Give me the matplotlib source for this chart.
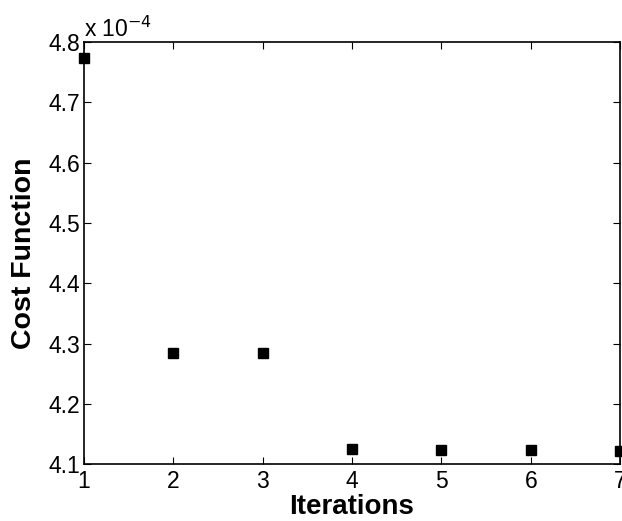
import matplotlib
matplotlib.use("Agg")
import matplotlib.pyplot as plt

# data (cost in units of 1e-4)
iterations = [1, 2, 3, 4, 5, 6, 7]
cost = [4.773, 4.284, 4.284, 4.125, 4.123, 4.123, 4.122]
yticks = [4.1, 4.2, 4.3, 4.4, 4.5, 4.6, 4.7, 4.8]

plt.rcParams['font.family'] = ['Liberation Sans', 'DejaVu Sans']

fig = plt.figure(figsize=(6.22, 5.21), dpi=100)
ax = fig.add_axes([0.135, 0.109, 0.862, 0.810])

ax.plot(iterations, cost, 's', color='black', markersize=7, clip_on=False)

ax.set_xlim(1, 7)
ax.set_ylim(4.1, 4.8)
ax.set_xticks(iterations)
ax.set_yticks(yticks)
ax.set_yticklabels(['%.1f' % t for t in yticks])
ax.tick_params(direction='in', length=5, width=0.8, top=True, right=True,
               labelsize=16.5)
ax.tick_params(axis='x', pad=4)
ax.tick_params(axis='y', pad=3)
for s in ax.spines.values():
    s.set_linewidth(1.2)

ax.text(0.0, 1.0, r'x 10$^{-4}$', transform=ax.transAxes, fontsize=16.5,
        ha='left', va='bottom')

ax.set_xlabel('Iterations', fontsize=20, fontweight='bold', labelpad=1)
ax.set_ylabel('Cost Function', fontsize=20.5, fontweight='bold', labelpad=8)

fig.savefig('out.png', dpi=100)
